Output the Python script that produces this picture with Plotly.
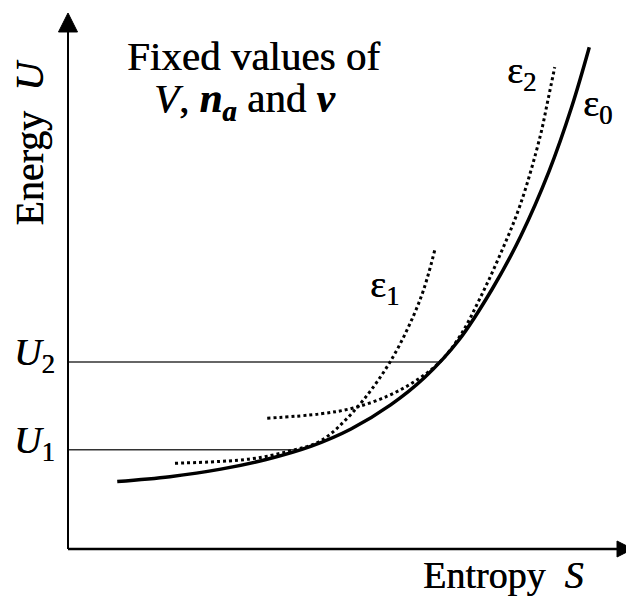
import plotly.graph_objects as go

# ---- data (schematic units: entropy S and energy U, 0..10) ----
eps0_S = [0.87, 1.80, 2.70, 3.50, 4.30, 5.00, 5.70, 6.30, 6.90, 7.50, 8.00, 8.50, 8.90, 9.21]
eps0_U = [1.26, 1.35, 1.49, 1.67, 1.92, 2.24, 2.69, 3.20, 3.89, 4.86, 5.84, 7.05, 8.25, 9.36]

eps1_S = [1.89, 3.22, 3.92, 4.45, 5.04, 5.69, 6.22, 6.48]
eps1_U = [1.60, 1.68, 1.83, 2.01, 2.56, 3.49, 4.65, 5.58]

eps2_S = [3.52, 4.45, 5.04, 5.64, 6.13, 6.57, 6.93, 7.28, 7.63, 7.99, 8.34, 8.48, 8.60]
eps2_U = [2.44, 2.52, 2.63, 2.85, 3.13, 3.49, 3.98, 4.68, 5.48, 6.42, 7.69, 8.38, 8.99]

U_levels = [1.85, 3.49]          # U1, U2
U_level_ends = [4.10, 6.57]      # where each level meets eps0
U_labels = ["<i>U</i><sub>1</sub>", "<i>U</i><sub>2</sub>"]

FONT = "Liberation Serif, Times New Roman, serif"
SHADOW = "0.5px 0px 0px black"

fig = go.Figure()

# horizontal energy levels
for u, s_end in zip(U_levels, U_level_ends):
    fig.add_trace(go.Scatter(x=[0, s_end], y=[u, u], mode="lines",
                             line=dict(color="#333333", width=1.5), hoverinfo="skip"))

fig.add_trace(go.Scatter(x=eps1_S, y=eps1_U, mode="lines",
                         line=dict(color="black", width=3, dash="dot", shape="spline", smoothing=1.0)))
fig.add_trace(go.Scatter(x=eps2_S, y=eps2_U, mode="lines",
                         line=dict(color="black", width=3, dash="dot", shape="spline", smoothing=1.0)))
fig.add_trace(go.Scatter(x=eps0_S, y=eps0_U, mode="lines",
                         line=dict(color="black", width=3.5, shape="spline", smoothing=1.0)))

shapes = [
    # y axis + arrow
    dict(type="line", xref="paper", yref="paper", x0=0, y0=0, x1=0, y1=0.965,
         line=dict(color="black", width=2)),
    dict(type="path", xref="paper", yref="paper",
         path="M 0 1 L -0.0168 0.9646 L 0.0168 0.9646 Z",
         fillcolor="black", line=dict(color="black", width=1)),
    # x axis + arrow
    dict(type="line", xref="paper", yref="paper", x0=0, y0=0, x1=0.972, y1=0,
         line=dict(color="black", width=2.5)),
    dict(type="path", xref="paper", yref="paper",
         path="M 0.998 0 L 0.970 0.0149 L 0.970 -0.0149 Z",
         fillcolor="black", line=dict(color="black", width=1)),
]


def font(size):
    return dict(family=FONT, size=size, color="black", shadow=SHADOW)


def ann(**kw):
    base = dict(showarrow=False, xanchor="center", yanchor="middle")
    base.update(kw)
    return base


annotations = [
    ann(x=3.27, y=9.20, text="Fixed values of", xref="x", yref="y", font=font(41)),
    ann(x=3.11, y=8.36, text="<i>V</i>, <b><i>n</i></b><sub><b><i>a</i></b></sub> and <b><i>v</i></b>",
        xref="x", yref="y", font=font(41)),
    ann(x=-0.067, y=0.758, text="Energy\u00a0\u00a0<i>U</i>", textangle=-90,
        xref="paper", yref="paper", font=font(40)),
    ann(x=0.769, y=-0.049, text="Entropy\u00a0\u00a0<i>S</i>", xref="paper", yref="paper", font=font(38)),
    ann(x=8.02, y=8.89, text="ε<sub>2</sub>", xref="x", yref="y", font=font(38)),
    ann(x=9.36, y=8.27, text="ε<sub>0</sub>", xref="x", yref="y", font=font(38)),
    ann(x=5.60, y=4.89, text="ε<sub>1</sub>", xref="x", yref="y", font=font(38)),
]
for u, lab in zip(U_levels, U_labels):
    annotations.append(ann(x=-0.060, y=u + 0.13, text=lab, xref="paper", yref="y", font=font(38)))

fig.update_layout(
    width=626, height=589,
    margin=dict(l=60, r=0, t=5, b=48),
    paper_bgcolor="white", plot_bgcolor="white",
    showlegend=False,
    xaxis=dict(range=[0, 10], visible=False),
    yaxis=dict(range=[0, 10], visible=False),
    shapes=shapes,
    annotations=annotations,
)

fig.write_html("out.html")
